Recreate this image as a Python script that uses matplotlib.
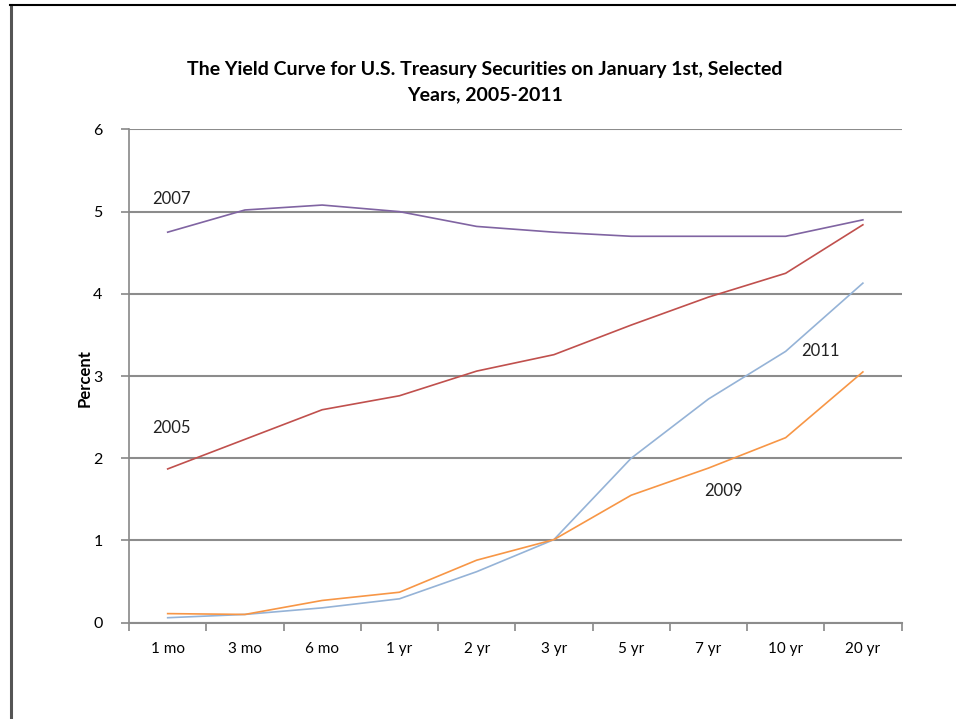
import matplotlib.pyplot as plt
import numpy as np

maturities = ['1 mo', '3 mo', '6 mo', '1 yr', '2 yr', '3 yr', '5 yr', '7 yr', '10 yr', '20 yr']
y2005 = [1.87, 2.23, 2.59, 2.76, 3.06, 3.26, 3.62, 3.96, 4.25, 4.84]
y2007 = [4.75, 5.02, 5.08, 5.00, 4.82, 4.75, 4.70, 4.70, 4.70, 4.90]
y2009 = [0.11, 0.10, 0.27, 0.37, 0.76, 1.01, 1.55, 1.88, 2.25, 3.05]
y2011 = [0.06, 0.10, 0.18, 0.29, 0.62, 1.01, 2.00, 2.72, 3.30, 4.13]

plt.rcParams['font.family'] = ['Lato', 'DejaVu Sans']

fig = plt.figure(figsize=(9.56, 7.19), dpi=100)
ax = fig.add_axes([0.135, 0.134, 0.808, 0.686])

x = np.arange(len(maturities))
ax.plot(x, y2007, color='#8064A2', lw=1.2)
ax.plot(x, y2005, color='#C0504D', lw=1.2)
ax.plot(x, y2011, color='#95B3D7', lw=1.2)
ax.plot(x, y2009, color='#F79646', lw=1.2)

# series labels
ax.text(0.05, 5.15, '2007', fontsize=12, ha='center', va='center', color='#222222')
ax.text(0.05, 2.37, '2005', fontsize=12, ha='center', va='center', color='#222222')
ax.text(8.45, 3.3, '2011', fontsize=12, ha='center', va='center', color='#222222')
ax.text(7.2, 1.6, '2009', fontsize=12, ha='center', va='center', color='#222222')

ax.set_xlim(-0.5, len(maturities) - 0.5)
ax.set_ylim(0, 6)
ax.set_yticks(range(7))
ax.set_xticks(x)
ax.set_xticklabels(maturities)
ax.set_xticks(np.arange(-0.5, len(maturities)), minor=True)
ax.tick_params(axis='x', which='major', length=0, pad=14, labelsize=11)
ax.tick_params(axis='x', which='minor', length=6, width=1.2, color='#888888', direction='out')
ax.tick_params(axis='y', length=6, width=1.2, color='#888888', labelsize=11.5, pad=13)

ax.grid(axis='y', color='#8c8c8c', lw=1.5)
ax.set_axisbelow(True)
for s in ['top', 'right']:
    ax.spines[s].set_visible(False)
ax.spines['left'].set_color('#888888')
ax.spines['left'].set_linewidth(1.2)
ax.spines['bottom'].set_color('#8c8c8c')
ax.spines['bottom'].set_linewidth(1.5)

fig.text(85 / 956, 1 - 378 / 719, 'Percent', rotation=90, ha='center', va='center',
         fontsize=12, fontweight='bold')

fig.text(0.507, 0.886, 'The Yield Curve for U.S. Treasury Securities on January 1st, Selected\nYears, 2005-2011',
         ha='center', va='center', fontsize=14, fontweight='bold', linespacing=1.55)

# outer frame (left and top edges only)
fig.add_artist(plt.Line2D([10.5 / 956, 10.5 / 956], [0, 1 - 5 / 719], color='#555555', lw=2.2,
                          transform=fig.transFigure))
fig.add_artist(plt.Line2D([10 / 956, 1], [1 - 5 / 719, 1 - 5 / 719], color='black', lw=1.5,
                          transform=fig.transFigure))

fig.savefig('out.png', dpi=100)
